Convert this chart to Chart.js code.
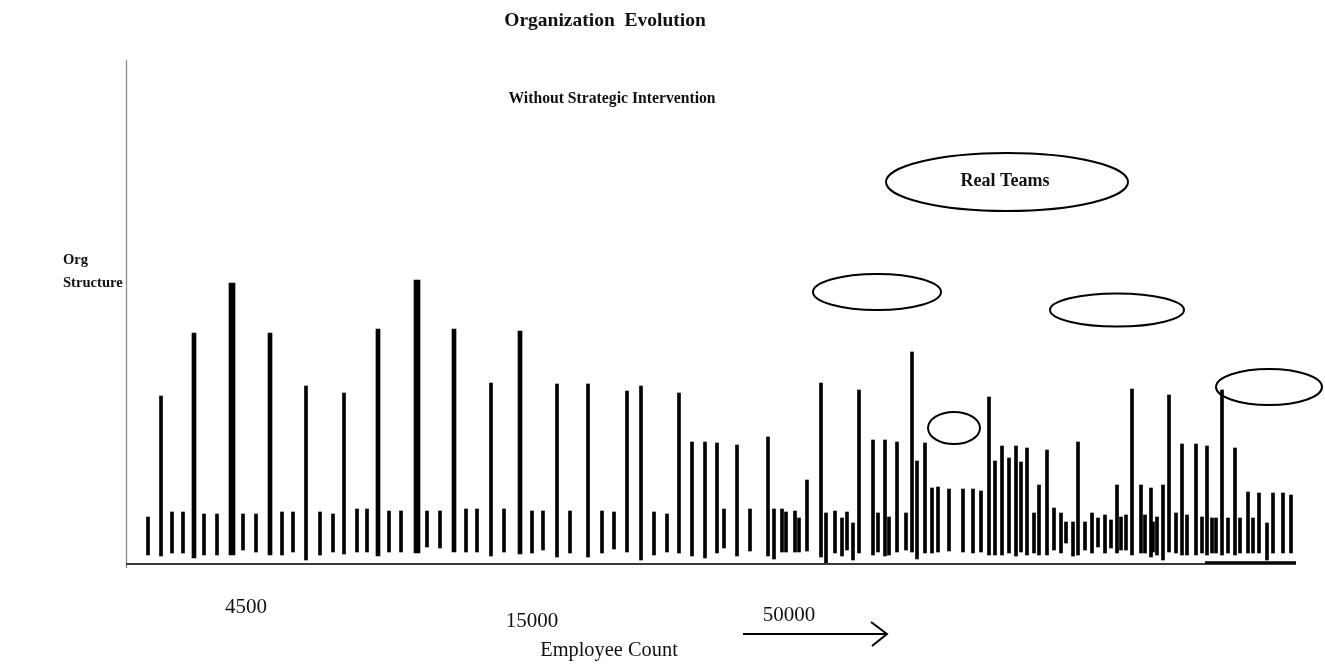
<!DOCTYPE html>
<html><head><meta charset="utf-8">
<script src="https://cdn.jsdelivr.net/npm/chart.js@4.4.1/dist/chart.umd.min.js"></script>
<style>html,body{margin:0;padding:0;background:#fff;overflow:hidden}canvas{display:block}</style>
</head><body>
<canvas id="c" width="1325" height="664"></canvas>
<script>
// ---- data (x = position along employee-count axis, top/base = org-structure level) ----
const majorX    = [10.6, 29.1];
const majorTop  = [56.0, 56.6];
const majorBase = [1.6, 2.0];

const highX    = [6.8, 14.4, 25.2, 32.8, 39.4];
const highTop  = [46.0, 46.0, 46.8, 46.8, 46.4];
const highBase = [1.0, 1.6, 1.4, 2.2, 1.8];

const minorX = [2.2,3.5,4.6,5.7,7.8,9.1,11.7,13.0,15.6,16.7,18.0,19.4,20.7,21.8,23.1,24.1,26.3,27.5,30.1,31.4,
  34.0,35.1,36.5,37.8,40.6,41.7,43.1,44.4,46.2,47.6,48.8,50.1,51.5,52.8,54.1,55.3,56.6,57.9,59.1,59.8,
  61.1,62.4,64.2,64.8,65.6,66.0,66.9,67.3,68.1,69.5,70.0,70.9,71.6,72.1,72.7,73.3,74.7,75.2,75.9,76.3,
  77.1,78.0,78.6,79.1,79.9,80.6,81.2,82.3,83.7,84.7,85.5,86.3,86.9,87.6,88.3,89.0,89.5,90.1,90.8,91.3,
  92.1,92.8,93.5,94.0,94.7,95.2,95.9,96.6,97.2,97.9,98.5,99.1,99.5,100.0,100.6,101.5,101.9,102.5,102.7,103.1,
  103.7,104.3,105.0,105.6,106.1,107.0,107.6,108.1,108.6,109.0,109.6,110.2,110.9,111.4,112.2,112.7,113.3,114.1,114.7,115.7,116.5];
const minorTop = [9.2,33.4,10.2,10.2,9.8,9.8,9.8,9.8,10.2,10.2,35.4,10.2,9.8,34.0,10.8,10.8,10.4,10.4,10.4,10.4,
  10.8,10.8,36.0,10.8,10.4,10.4,35.8,10.4,35.8,10.4,10.2,34.4,35.4,10.2,9.8,34.0,24.2,24.2,24.0,10.8,
  23.6,10.8,25.2,10.8,10.8,10.2,10.4,9.0,16.6,36.0,10.0,10.4,9.0,10.2,8.0,34.6,24.6,10.0,24.6,9.2,
  24.2,10.0,42.2,20.4,24.0,15.0,15.2,14.8,14.8,14.8,14.4,33.2,20.4,23.4,21.0,23.4,20.2,23.0,10.0,15.6,
  22.6,11.0,10.0,8.2,8.2,24.2,8.2,10.0,9.0,9.6,8.6,15.6,9.2,9.6,34.8,15.6,9.6,15.0,8.2,9.2,
  15.6,33.6,10.0,23.8,9.6,23.8,9.2,23.4,9.0,9.0,34.6,9.0,23.0,9.0,14.2,9.0,14.0,8.0,14.0,14.0,13.6];
const minorBase = [1.6,1.4,2.0,2.0,1.6,1.6,2.6,2.2,1.6,2.2,0.6,1.6,2.2,1.8,2.2,2.2,2.2,2.2,3.2,3.0,
  2.2,2.2,1.4,2.2,2.0,2.6,1.2,2.0,1.2,2.0,2.8,2.2,0.6,1.6,2.2,2.0,1.4,1.0,2.0,3.0,
  1.4,2.4,1.4,0.8,2.2,2.2,2.2,2.2,2.4,1.2,0.0,2.0,1.4,2.6,0.6,2.0,1.6,2.2,1.4,1.6,
  2.2,2.6,2.2,0.8,2.0,2.0,2.2,2.4,2.2,2.0,2.2,1.6,1.6,1.6,2.0,1.4,2.2,1.6,2.0,1.6,
  1.6,2.6,2.0,4.0,1.4,1.6,2.6,2.0,3.2,2.0,3.0,2.0,2.6,2.6,1.6,2.0,2.0,1.2,2.2,1.6,
  0.6,2.2,2.0,1.6,1.6,1.6,2.0,1.6,2.0,2.0,1.6,2.0,1.6,2.0,2.0,2.0,2.0,0.6,2.0,2.0,2.0];

const tickLabels = ['4500', '15000', '50000'];
const tickValues = [12.0, 40.6, 66.3];

// circled groups ("real teams"): centre x, centre y, half-width, half-height (data units)
const teamCx = [88.1, 75.1, 99.1, 82.8, 114.3];
const teamCy = [76.2, 54.2, 50.6, 27.0, 35.2];
const teamRx = [12.1, 6.4, 6.7, 2.6, 5.3];
const teamRy = [5.8, 3.6, 3.3, 3.2, 3.6];

const toPts = (xs, tops, bases) => xs.map((v, i) => ({x: v, y: [bases[i], tops[i]]}));

const SERIF = '"Liberation Serif", "DejaVu Serif", serif';

const deco = {
  id: 'deco',
  afterDatasetsDraw(chart) {
    const {ctx, chartArea: a, scales: {x, y}} = chart;
    ctx.save();
    // left axis
    ctx.strokeStyle = '#8c8c8c'; ctx.lineWidth = 1.3;
    ctx.beginPath(); ctx.moveTo(a.left + 0.5, a.top - 3); ctx.lineTo(a.left + 0.5, a.bottom + 5); ctx.stroke();
    // bottom axis
    ctx.strokeStyle = '#3a3a3a'; ctx.lineWidth = 2;
    ctx.beginPath(); ctx.moveTo(a.left, a.bottom + 1); ctx.lineTo(a.right, a.bottom + 1); ctx.stroke();
    ctx.strokeStyle = '#000'; ctx.lineWidth = 2.5;
    ctx.beginPath(); ctx.moveTo(x.getPixelForValue(107.9), a.bottom - 0.5); ctx.lineTo(a.right, a.bottom - 0.5); ctx.stroke();

    // ellipses
    ctx.strokeStyle = '#000'; ctx.lineWidth = 2;
    teamCx.forEach((cx, i) => {
      const px = x.getPixelForValue(cx), py = y.getPixelForValue(teamCy[i]);
      const rx = x.getPixelForValue(cx + teamRx[i]) - px;
      const ry = py - y.getPixelForValue(teamCy[i] + teamRy[i]);
      ctx.beginPath(); ctx.ellipse(px, py, rx, ry, 0, 0, Math.PI * 2); ctx.stroke();
    });

    ctx.fillStyle = '#111';
    ctx.textAlign = 'center'; ctx.textBaseline = 'alphabetic';
    ctx.font = 'bold 19.5px ' + SERIF;
    ctx.fillText('Organization  Evolution', 605, 26);
    ctx.font = 'bold 15.7px ' + SERIF;
    ctx.fillText('Without Strategic Intervention', 612, 103);
    ctx.font = 'bold 18px ' + SERIF;
    ctx.fillText('Real Teams', x.getPixelForValue(teamCx[0]) - 2, y.getPixelForValue(teamCy[0]) + 4);

    ctx.textAlign = 'left';
    ctx.font = 'bold 14.6px ' + SERIF;
    ctx.fillText('Org', 63, 264);
    ctx.fillText('Structure', 63, 287);

    // tick labels (hand placed, staggered)
    ctx.textAlign = 'center';
    ctx.font = '21px ' + SERIF;
    const tickDy = [50, 64, 58];
    tickLabels.forEach((t, i) => ctx.fillText(t, x.getPixelForValue(tickValues[i]), a.bottom + tickDy[i]));
    ctx.font = '20.4px ' + SERIF;
    ctx.fillText('Employee Count', 609, 656);

    // arrow
    const ay = a.bottom + 71;
    const ax0 = x.getPixelForValue(61.7), ax1 = x.getPixelForValue(76.0);
    ctx.lineWidth = 2; ctx.strokeStyle = '#000';
    ctx.beginPath(); ctx.moveTo(ax0, ay); ctx.lineTo(ax1, ay); ctx.stroke();
    ctx.beginPath(); ctx.moveTo(ax1 - 15, ay - 12); ctx.lineTo(ax1 + 1, ay); ctx.lineTo(ax1 - 14, ay + 12); ctx.stroke();
    ctx.restore();
  }
};

new Chart(document.getElementById('c'), {
  type: 'bar',
  data: {
    datasets: [
      {label: 'major', data: toPts(majorX, majorTop, majorBase), barThickness: 6, backgroundColor: '#000'},
      {label: 'high', data: toPts(highX, highTop, highBase), barThickness: 4, backgroundColor: '#000'},
      {label: 'minor', data: toPts(minorX, minorTop, minorBase), barThickness: 3, backgroundColor: '#000'}
    ]
  },
  options: {
    responsive: false,
    animation: false,
    devicePixelRatio: 1,
    grouped: false,
    layout: {padding: {left: 126, right: 29, top: 63, bottom: 101}},
    plugins: {legend: {display: false}, tooltip: {enabled: false}, title: {display: false}},
    scales: {
      x: {type: 'linear', min: 0, max: 117, offset: false, display: false},
      y: {min: 0, max: 100, display: false}
    }
  },
  plugins: [deco]
});
</script>
</body></html>
